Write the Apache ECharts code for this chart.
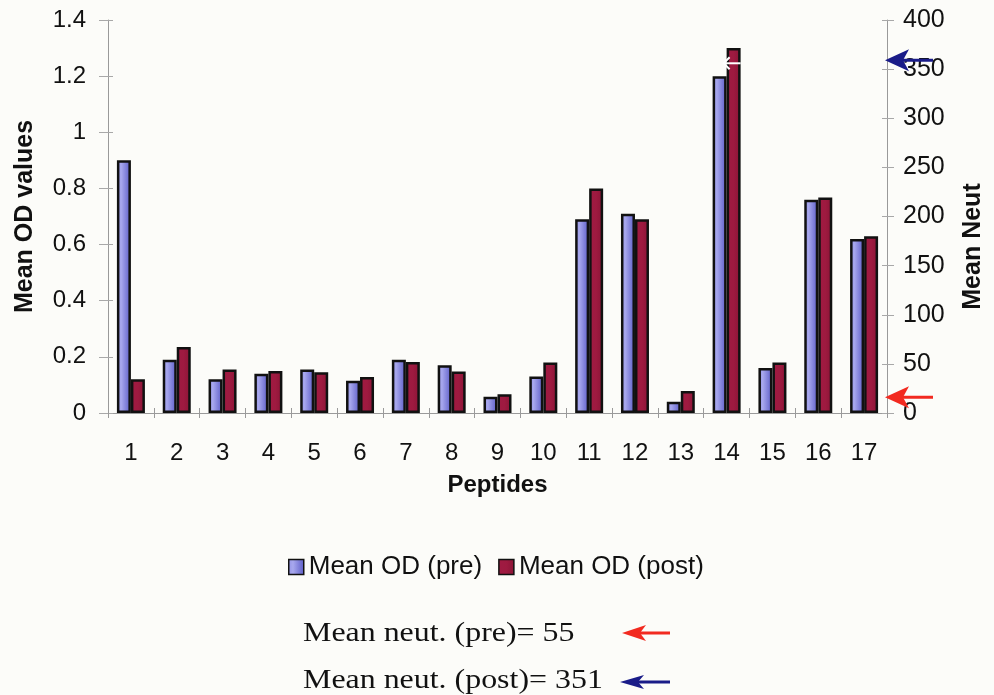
<!DOCTYPE html>
<html>
<head>
<meta charset="utf-8">
<script src="https://cdn.jsdelivr.net/npm/echarts@6/dist/echarts.min.js"></script>
<style>
  html, body { margin: 0; padding: 0; background: #fcfcf9; }
  #chart { width: 994px; height: 695px; }
</style>
</head>
<body>
<div id="chart"></div>
<script>
// ---- data ----
const categories = ['1','2','3','4','5','6','7','8','9','10','11','12','13','14','15','16','17'];
const meanODPre  = [0.90, 0.19, 0.12, 0.14, 0.155, 0.115, 0.19, 0.17, 0.058, 0.13, 0.69, 0.71, 0.04, 1.20, 0.16, 0.76, 0.62];
const meanODPost = [0.12, 0.235, 0.155, 0.15, 0.145, 0.128, 0.182, 0.148, 0.067, 0.18, 0.80, 0.69, 0.078, 1.30, 0.18, 0.768, 0.63];
const seriesNames = ['Mean OD (pre)', 'Mean OD (post)'];
const leftTicks = { min: 0, max: 1.4, interval: 0.2 };
const rightTicks = { min: 0, max: 400, interval: 50 };
const neutArrowValues = [359, 16];          // arrow marks on the right (Mean Neut) axis
const noteLines = ['Mean neut. (pre)= 55', 'Mean neut. (post)= 351'];

// ---- styles ----
const SANS = 'Liberation Sans, Arial, sans-serif';
const SERIF = 'Liberation Serif, Times New Roman, serif';
const preFill = new echarts.graphic.LinearGradient(0, 0, 1, 0, [
  { offset: 0, color: '#9494e6' }, { offset: 0.3, color: '#a8a8ee' }, { offset: 1, color: '#5a5ac6' }
]);
const postFill = new echarts.graphic.LinearGradient(0, 0, 1, 0, [
  { offset: 0, color: '#a01a42' }, { offset: 0.5, color: '#9e1a40' }, { offset: 1, color: '#8a1436' }
]);
const NAVY = '#1a1c88';
const RED = '#f22a20';

const chart = echarts.init(document.getElementById('chart'), null, { renderer: 'canvas' });
const GRID = { left: 108, right: 107, top: 20, bottom: 282 };

const option = {
  backgroundColor: '#fcfcf9',
  animation: false,
  textStyle: { fontFamily: SANS },
  grid: GRID,
  legend: {
    data: seriesNames,
    left: 283, top: 549,
    icon: 'rect',
    itemWidth: 15, itemHeight: 15, itemGap: 16,
    textStyle: { fontFamily: SANS, fontSize: 26, color: '#111' },
    itemStyle: { borderColor: '#111', borderWidth: 1.5 }
  },
  xAxis: [{
    type: 'category',
    data: categories,
    name: 'Peptides',
    nameLocation: 'middle',
    nameGap: 60,
    nameTextStyle: { fontFamily: SANS, fontSize: 24, fontWeight: 'bold', color: '#111' },
    axisLine: { show: true, lineStyle: { color: '#9a9a9a', width: 1 } },
    axisTick: { show: true, length: 5, lineStyle: { color: '#9a9a9a' } },
    axisLabel: { fontSize: 24, color: '#111', margin: 28, fontFamily: SANS },
    splitLine: { show: false }
  }, {
    type: 'category',
    data: categories,
    position: 'bottom',
    axisLine: { show: false },
    axisTick: { show: true, inside: true, length: 5, lineStyle: { color: '#9a9a9a' } },
    axisLabel: { show: false },
    splitLine: { show: false }
  }],
  yAxis: [{
    type: 'value',
    position: 'left',
    min: leftTicks.min, max: leftTicks.max, interval: leftTicks.interval,
    name: 'Mean OD values',
    nameLocation: 'middle',
    nameGap: 70,
    nameRotate: 90,
    nameTextStyle: { fontFamily: SANS, fontSize: 25, fontWeight: 'bold', color: '#111' },
    axisLine: { show: true, lineStyle: { color: '#9a9a9a', width: 1 } },
    axisTick: { show: true, length: 9, lineStyle: { color: '#a8a8a8' } },
    axisLabel: { fontSize: 24, color: '#111', margin: 22, fontFamily: SANS,
                 formatter: v => String(Math.round(v * 10) / 10) },
    splitLine: { show: false }
  }, {
    type: 'value',
    position: 'right',
    min: rightTicks.min, max: rightTicks.max, interval: rightTicks.interval,
    name: 'Mean Neut',
    nameLocation: 'middle',
    nameGap: 74,
    nameRotate: 90,
    nameTextStyle: { fontFamily: SANS, fontSize: 25, fontWeight: 'bold', color: '#111', padding: [0, 60, 0, 0] },
    axisLine: { show: true, lineStyle: { color: '#9a9a9a', width: 1 } },
    axisTick: { show: true, length: 7, lineStyle: { color: '#a8a8a8' } },
    axisLabel: { fontSize: 25, color: '#111', margin: 16, fontFamily: SANS },
    splitLine: { show: false }
  }, {
    type: 'value', position: 'left',
    min: leftTicks.min, max: leftTicks.max, interval: leftTicks.interval,
    axisLine: { show: false }, axisLabel: { show: false }, splitLine: { show: false },
    axisTick: { show: true, inside: true, length: 5, lineStyle: { color: '#a8a8a8' } }
  }, {
    type: 'value', position: 'right',
    min: rightTicks.min, max: rightTicks.max, interval: rightTicks.interval,
    axisLine: { show: false }, axisLabel: { show: false }, splitLine: { show: false },
    axisTick: { show: true, inside: true, length: 5, lineStyle: { color: '#a8a8a8' } }
  }],
  series: [{
    name: seriesNames[0],
    type: 'bar',
    data: meanODPre,
    barWidth: 14,
    barGap: '0%',
    itemStyle: { color: preFill, borderColor: '#111', borderWidth: 2.5 }
  }, {
    name: seriesNames[1],
    type: 'bar',
    data: meanODPost,
    barWidth: 14,
    barGap: '0%',
    itemStyle: { color: postFill, borderColor: '#111', borderWidth: 2.5 }
  }]
};
chart.setOption(option);

// ---- annotation arrows & notes ----
function arrow(xTip, y, len, color, headLen, headH, shaftW) {
  return [{
    type: 'polygon', z: 100,
    shape: { points: [[xTip, y], [xTip + headLen, y - headH / 2], [xTip + headLen * 0.75, y], [xTip + headLen, y + headH / 2]] },
    style: { fill: color }
  }, {
    type: 'line', z: 99,
    shape: { x1: xTip + headLen * 0.6, y1: y, x2: xTip + len, y2: y },
    style: { stroke: color, lineWidth: shaftW }
  }];
}
const axisRightX = 994 - GRID.right;
const elems = [];
const arrowColors = [NAVY, RED];
neutArrowValues.forEach((v, i) => {
  const y = chart.convertToPixel({ yAxisIndex: 1 }, v);
  elems.push(...arrow(axisRightX - 2, y, 48, arrowColors[i], 24, 22, 3));
});
// small white arrow echo on peptide 14 bar
{
  const y = chart.convertToPixel({ yAxisIndex: 1 }, neutArrowValues[0]) + 3;
  const xc = chart.convertToPixel({ xAxisIndex: 0 }, '14');
  elems.push({
    type: 'polyline', z: 101,
    shape: { points: [[xc + 3, y - 6], [xc - 3, y], [xc + 3, y + 6]] },
    style: { stroke: '#ffffff', lineWidth: 2, fill: null }
  }, {
    type: 'line', z: 101,
    shape: { x1: xc - 3, y1: y, x2: xc + 14, y2: y },
    style: { stroke: '#ffffff', lineWidth: 2 }
  });
}
// notes
const noteY = [634, 681];
noteLines.forEach((t, i) => {
  elems.push({
    type: 'text', z: 100, x: 303, y: noteY[i], scaleX: 1.14,
    style: { text: t, font: '28px ' + SERIF, fill: '#111', textVerticalAlign: 'middle', verticalAlign: 'middle' }
  });
});
elems.push(...arrow(622, 633, 48, RED, 24, 16, 3));
elems.push(...arrow(620, 682, 50, NAVY, 24, 14, 3));
chart.setOption({ graphic: elems });
</script>
</body>
</html>
